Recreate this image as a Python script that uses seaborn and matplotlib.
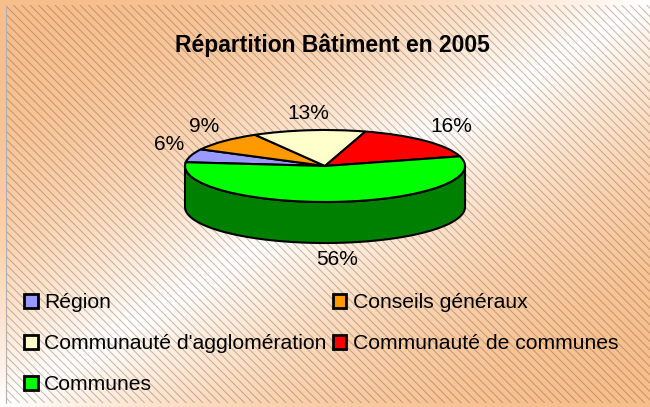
import numpy as np
import matplotlib
matplotlib.use("Agg")
import matplotlib.pyplot as plt
import seaborn as sns
from matplotlib.patches import Rectangle

# données
categories = ["Région", "Conseils généraux", "Communauté d'agglomération",
              "Communauté de communes", "Communes"]
shares = [6, 9, 13, 16, 56]
pct_labels = [f"{v}%" for v in shares]
colors = ["#9999ff", "#ff9900", "#ffffcc", "#ff0000", "#00ff00"]
title = "Répartition Bâtiment en 2005"

sns.set_theme(style="white")
plt.rcParams["font.family"] = ["Liberation Sans", "DejaVu Sans"]
plt.rcParams["text.color"] = "black"
plt.rcParams["hatch.linewidth"] = 0.7

W, H = 650, 407
fig = plt.figure(figsize=(W / 100, H / 100), dpi=100)

# fond dégradé pêche / blanc en diagonale + hachures fines
bg = fig.add_axes([0, 0, 1, 1])
bg.set_axis_off()
xx, yy = np.meshgrid(np.linspace(0, 1, W), np.linspace(0, 1, H))
s = (xx + yy) / 2
w = (1 - np.abs(2 * s - 1)) ** 2.2
peach = np.array([247, 190, 140]) / 255
img = peach * (1 - w[..., None]) + w[..., None]
bg.imshow(img, extent=[0, 1, 0, 1], aspect="auto", origin="upper")
bg.set_xlim(0, 1)
bg.set_ylim(0, 1)
bg.add_patch(Rectangle((6 / W, 1 - 403 / H), 644 / W, 398 / H,
                       facecolor="none", edgecolor=(0.35, 0.25, 0.15, 0.35),
                       hatch="\\\\\\\\", linewidth=0))
bg.plot([6 / W, 6 / W], [1 - 403 / H, 1 - 5 / H], color="#b0b0b0", lw=0.8)

# camembert 3D : dessus via ax.pie, écrasé verticalement
ax = fig.add_axes([0, 0, 1, 1])
wedges, _ = ax.pie(shares, colors=colors, startangle=174, counterclock=False,
                   wedgeprops=dict(edgecolor="black", linewidth=1.5, zorder=3))
ax.set_aspect("auto")
cx, cy, rx, ry = 325, 166, 140, 36
ax.set_xlim(-cx / rx, (W - cx) / rx)
ax.set_ylim(-(H - cy) / ry, cy / ry)
ax.set_axis_off()
depth = 41 / ry

# flanc visible (moitié avant)
for wdg, col in zip(wedges, colors):
    for lo, hi in [(-180, 0), (180, 360)]:
        a, b = max(wdg.theta1, lo), min(wdg.theta2, hi)
        if b <= a:
            continue
        t = np.radians(np.linspace(a, b, 200))
        xs = np.concatenate([np.cos(t), np.cos(t[::-1])])
        ys = np.concatenate([np.sin(t), np.sin(t[::-1]) - depth])
        side = tuple(0.5 * np.array(matplotlib.colors.to_rgb(col)))
        ax.fill(xs, ys, facecolor=side, edgecolor="black", linewidth=1.5, zorder=2)

# étiquettes de pourcentage
for wdg, lab in zip(wedges, pct_labels):
    mid = np.radians((wdg.theta1 + wdg.theta2) / 2)
    c, sn = np.cos(mid), np.sin(mid)
    y0 = sn - depth if sn < 0 else sn
    ha = "left" if c > 0.25 else ("right" if c < -0.25 else "center")
    va = "bottom" if sn > 0 else "top"
    ax.annotate(lab, (c, y0), xytext=(5 * c, 5 * sn), textcoords="offset points",
                ha=ha, va=va, fontsize=15, color="black")

fig.text(332 / W, 1 - 45 / H, title, ha="center", va="center",
         fontsize=16.5, fontweight="bold", color="black")

# légende sur 2 colonnes, remplie ligne par ligne
n = len(categories)
order = list(range(0, n, 2)) + list(range(1, n, 2))
leg = fig.legend([wedges[i] for i in order], [categories[i] for i in order],
                 ncol=2, loc="upper left", bbox_to_anchor=(24 / W, 1 - 293 / H),
                 frameon=False, fontsize=15.2, handlelength=0.65, handleheight=0.65,
                 handletextpad=0.3, columnspacing=0.3, labelspacing=1.05,
                 borderpad=0, borderaxespad=0)
for h in leg.legend_handles:
    h.set_linewidth(2)
for t in leg.get_texts():
    t.set_color("black")

fig.savefig("out.png", dpi=100)
